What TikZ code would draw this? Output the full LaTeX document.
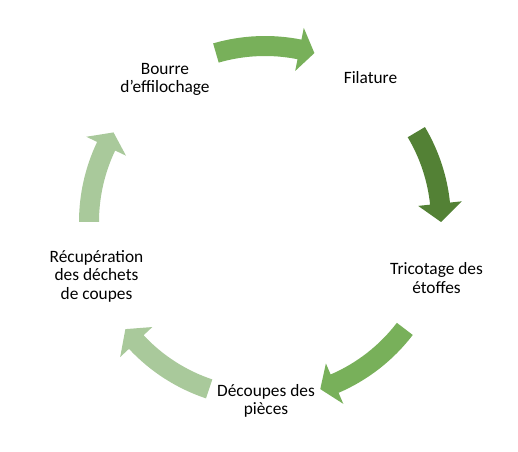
\documentclass[tikz,border=0pt]{standalone}
\usepackage{fontspec}
\setmainfont{Carlito}
\usepackage{tikz}
\definecolor{leafmid}{HTML}{78B05A}
\definecolor{leafdark}{HTML}{538135}
\definecolor{leaflight}{HTML}{A9C99B}
% block arrow on the ring: (start angle : head base angle : tip angle)
\def\cyclearrow[#1](#2:#3:#4){\fill[#1] (#2:186) arc (#2:#3:186) -- (#3:198) -- (#4:176) -- (#3:154) -- (#3:166) arc (#3:#2:166) -- cycle;}

\begin{document}
\begin{tikzpicture}[x=0.75pt, y=0.75pt,
	label/.style={align=center, inner sep=0pt, font=\fontsize{13}{13.9}\selectfont}]
		%%%%% START %%%%%
		
		\useasboundingbox (0, 0) rectangle (518, -452);
		
		\node[label] (bourre) at (165, -79.6) {Bourre\\d’effilochage};
		\node[label] (filature) at (370.5, -77.3) {Filature};
		\node[label] (tricotage) at (436.5, -277.8) {Tricotage des\\étoffes};
		\node[label] (decoupes) at (266, -400.9) {Découpes des\\pièces};
		\node[label] (recup) at (96.5, -276.4) {Récupération\\des déchets\\de coupes};
		
		\begin{scope}[shift={(265, -222)}]
			\cyclearrow[leafmid](106.2:78.7:73.7);
			\cyclearrow[leafdark](30.7:6:0);
			\cyclearrow[leafmid](-37.4:-66.7:-71.7);
			\cyclearrow[leaflight](-108.5:-137:-142.5);
			\cyclearrow[leaflight](180:154.5:149.4);
		\end{scope}
		
		%%%%% END %%%%%
	\end{tikzpicture}
\end{document}
